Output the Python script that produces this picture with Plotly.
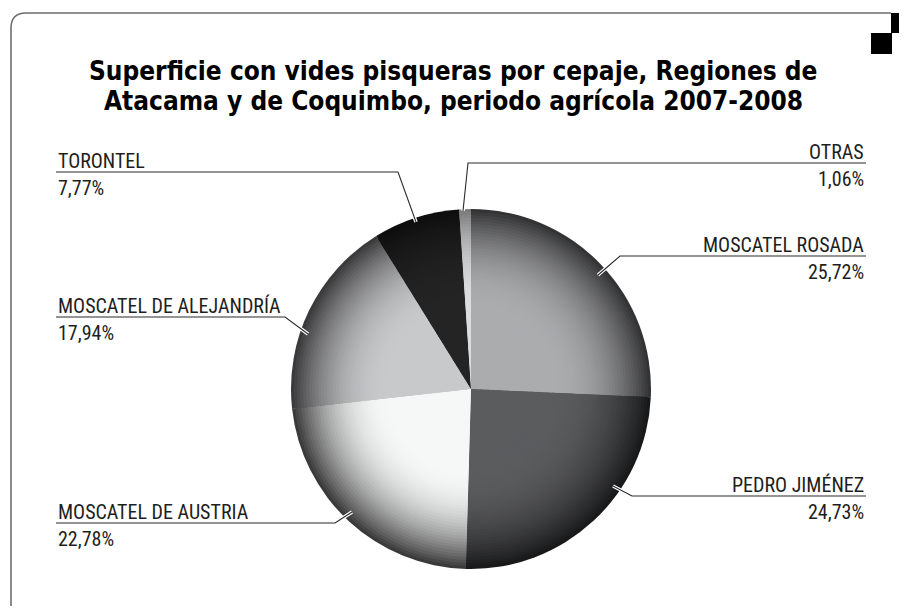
import plotly.graph_objects as go

# ---------------- data ----------------
categories = ["MOSCATEL ROSADA", "PEDRO JIMÉNEZ", "MOSCATEL DE AUSTRIA",
              "MOSCATEL DE ALEJANDRÍA", "TORONTEL", "OTRAS"]
shares = [25.72, 24.73, 22.78, 17.94, 7.77, 1.06]
share_labels = ["25,72%", "24,73%", "22,78%", "17,94%", "7,77%", "1,06%"]
title_lines = ["Superficie con vides pisqueras por cepaje, Regiones de",
               "Atacama y de Coquimbo, periodo agrícola 2007-2008"]

# ---------------- style / layout ----------------
OFF = 8                      # page body margin of the html page
W, H = 907 - OFF, 608 - OFF
center_colors = ["#abacae", "#5b5c5e", "#f6f7f7", "#c8c9cb", "#242424", "#dcdddd"]
rim_colors = ["#333335", "#19191a", "#3a3a3a", "#3a3a3b", "#0e0e0e", "#7a7a7a"]
CX, CY, R = 471, 389, 180          # pie centre / radius in page pixels
N_LAYERS = 60

# label layout: (underline y, x start, x end, anchor x, anchor y, align)
label_layout = {
    "MOSCATEL ROSADA": (256, 620, 866, 598, 275, "right"),
    "PEDRO JIMÉNEZ": (496, 632, 866, 613, 486, "right"),
    "MOSCATEL DE AUSTRIA": (523, 56, 335, 352, 512, "left"),
    "MOSCATEL DE ALEJANDRÍA": (317, 56, 285, 308, 334, "left"),
    "TORONTEL": (172, 56, 398, 416, 222, "left"),
    "OTRAS": (163, 468, 866, 463, 211, "right"),
}

LABEL_FONT = "Liberation Sans Narrow, Roboto Condensed, DejaVu Sans Condensed, Arial Narrow, sans-serif"
TITLE_FONT = "Liberation Sans Narrow, DejaVu Sans Condensed, Arial Narrow, sans-serif"


def hex2rgb(h):
    h = h.lstrip("#")
    return tuple(int(h[i:i + 2], 16) for i in (0, 2, 4))


def mix(c1, c2, f):
    a, b = hex2rgb(c1), hex2rgb(c2)
    return "rgb(%d,%d,%d)" % tuple(round(a[i] + (b[i] - a[i]) * f) for i in range(3))


def px(x, y):
    return (x - OFF) / W, 1 - (y - OFF) / H


fig = go.Figure()

# concentric layers to imitate the radial shading of the original
for k in range(N_LAYERS):
    r = R * (1 - k / N_LAYERS)
    t = r / R
    f = max(0.0, (t - 0.45) / 0.55) ** 2.2
    cols = [mix(c, e, f) for c, e in zip(center_colors, rim_colors)]
    x0, y0 = px(CX - r, CY + r)
    x1, y1 = px(CX + r, CY - r)
    fig.add_trace(go.Pie(
        labels=categories, values=shares, sort=False, direction="clockwise",
        rotation=0, textinfo="none", hoverinfo="skip", showlegend=False,
        marker=dict(colors=cols, line=dict(width=0)),
        domain=dict(x=[x0, x1], y=[y0, y1]),
    ))

shapes = []
annotations = []

for cat, lab in zip(categories, share_labels):
    uy, xs, xe, ax, ay, align = label_layout[cat]
    if align == "left":
        path_pts = [(xs, uy), (xe, uy), (ax, ay)]
        tx, xanchor = xs, "left"
    else:
        path_pts = [(xe, uy), (xs, uy), (ax, ay)]
        tx, xanchor = xe, "right"
    path = "M " + " L ".join("%f,%f" % px(x, y) for x, y in path_pts)
    shapes.append(dict(type="path", xref="paper", yref="paper", path=path,
                       line=dict(color="white", width=3.5)))
    shapes.append(dict(type="path", xref="paper", yref="paper", path=path,
                       line=dict(color="#2b2b2b", width=1.1)))
    x_, y_ = px(tx, uy - 11)
    annotations.append(dict(x=x_, y=y_, xref="paper", yref="paper", text=cat,
                            showarrow=False, xanchor=xanchor, yanchor="middle",
                            font=dict(family=LABEL_FONT, size=20, color="#1e1e1e")))
    x_, y_ = px(tx, uy + 16)
    annotations.append(dict(x=x_, y=y_, xref="paper", yref="paper", text=lab,
                            showarrow=False, xanchor=xanchor, yanchor="middle",
                            font=dict(family=LABEL_FONT, size=20, color="#1e1e1e")))

# title
for i, line in enumerate(title_lines):
    x_, y_ = px(453, 71 + 30 * i)
    annotations.append(dict(x=x_, y=y_, xref="paper", yref="paper",
                            text="<b>%s</b>" % line, showarrow=False,
                            xanchor="center", yanchor="middle",
                            font=dict(family=TITLE_FONT, size=26, color="black")))

# frame with rounded top-left corner
p = [px(11, 606), px(11, 28), px(11, 13), px(26, 13), px(891, 13)]
frame = ("M %f,%f L %f,%f Q %f,%f %f,%f L %f,%f" %
         (p[0] + p[1] + p[2] + p[3] + p[4]))
shapes.append(dict(type="path", xref="paper", yref="paper", path=frame,
                   line=dict(color="#6e6e6e", width=1.6)))
# corner decoration squares
for (xa, ya, xb, yb) in [(891, 13, 907, 33), (871, 33, 892, 54)]:
    a = px(xa, yb)
    b = px(xb, ya)
    shapes.append(dict(type="rect", xref="paper", yref="paper",
                       x0=a[0], y0=a[1], x1=b[0], y1=b[1],
                       fillcolor="black", line=dict(width=0)))

fig.update_layout(width=W, height=H, margin=dict(l=0, r=0, t=0, b=0),
                  paper_bgcolor="white", plot_bgcolor="white",
                  shapes=shapes, annotations=annotations)

fig.write_html("out.html")
